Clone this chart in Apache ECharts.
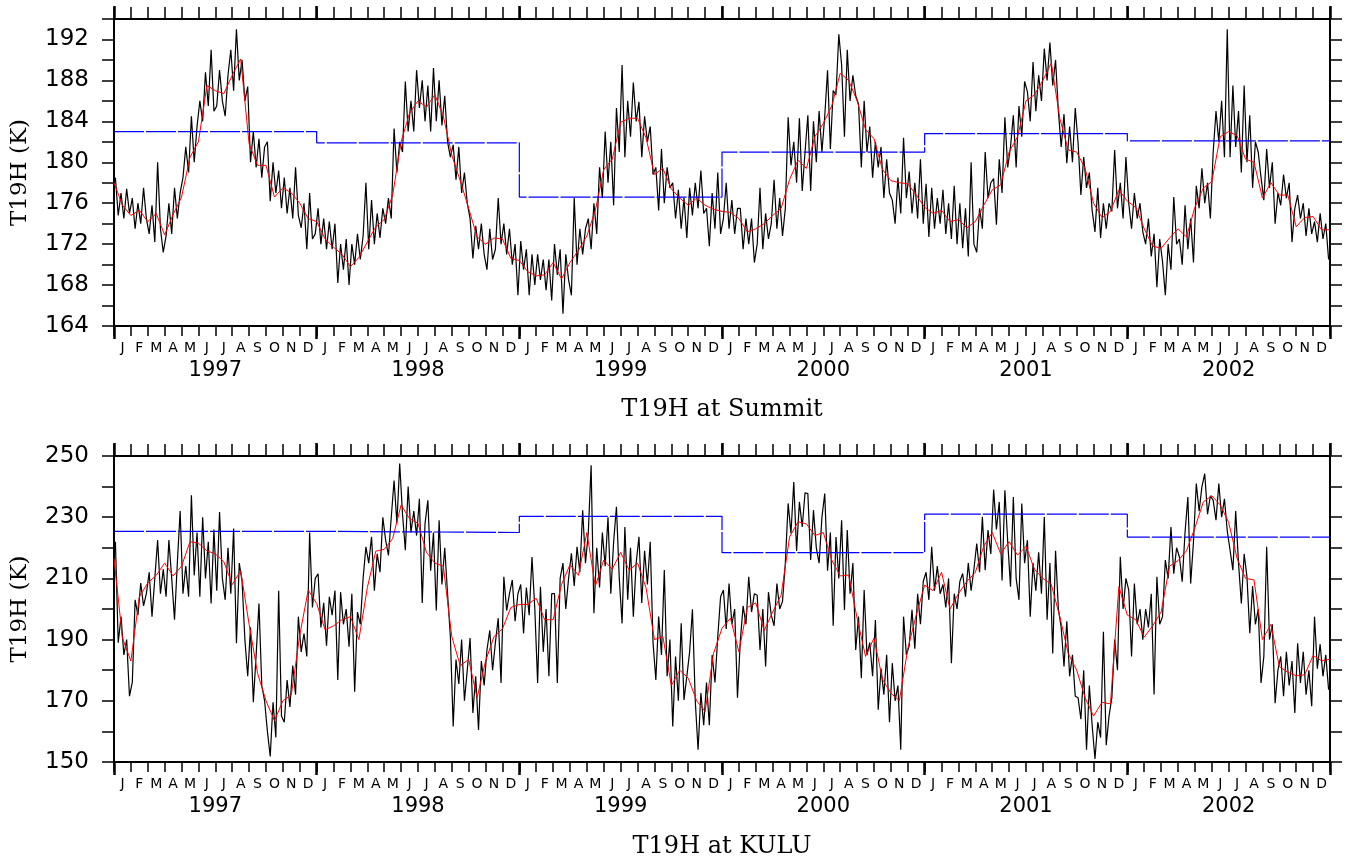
<!DOCTYPE html>
<html lang="en">
<head>
<meta charset="UTF-8">
<title>T19H Summit / KULU</title>
<style>
  html, body { margin: 0; padding: 0; background: #fff; }
  #chart { width: 1346px; height: 860px; }
</style>
</head>
<body>
<div id="chart"></div>
<script src="https://cdn.jsdelivr.net/npm/echarts@6/dist/echarts.min.js"></script>
<script>

// ---- data ----
var monthLetters = ['J','F','M','A','M','J','J','A','S','O','N','D'];
var years = ['1997','1998','1999','2000','2001','2002'];

// yearly means (blue steps)
var summitAnnual = [183.0, 181.9, 176.6, 181.0, 182.8, 182.1];
var kuluAnnual   = [225.4, 225.0, 230.3, 218.4, 231.0, 223.5];

// smoothed curve, one value every half month (red)
var summitSmooth = [
  178.0,175.8,174.8,175.3,174.2,175.0,172.9,174.9,176.6,180.5,182.0,187.5,187.0,186.7,188.5,190.1,181.8,179.7,179.7,176.6,177.5,177.0,176.0,174.5,
  174.2,172.5,171.7,171.0,169.8,170.7,172.2,173.7,174.4,176.8,182.0,184.8,186.0,185.4,186.6,184.5,180.7,178.2,175.5,172.7,172.0,172.6,172.5,170.6,
  170.4,169.3,168.9,169.0,170.2,168.6,170.2,171.4,172.8,175.3,179.3,180.3,183.9,184.3,184.3,182.4,178.8,179.4,177.4,176.5,175.8,176.5,175.8,175.4,
  175.2,175.1,174.5,173.2,173.5,174.0,174.8,175.5,178.3,180.2,179.4,182.5,183.8,185.5,188.7,188.0,186.0,183.2,182.3,179.3,178.2,178.0,177.9,176.8,
  175.6,175.0,175.3,174.2,174.4,173.6,174.2,175.8,177.3,177.8,181.0,182.5,186.0,186.6,188.0,189.7,184.3,181.2,181.0,179.4,176.0,174.6,175.2,177.3,
  176.2,175.6,173.5,171.8,171.6,172.6,173.5,172.7,175.6,177.5,178.1,182.5,183.0,182.6,180.3,180.0,176.5,178.0,176.8,176.8,173.7,174.6,174.7,173.4,
  173.4
];
var kuluSmooth = [
  216.5,190.5,183.0,204.0,208.5,211.0,215.0,210.8,214.0,222.0,221.5,219.0,218.0,215.5,208.0,212.5,195.0,179.0,170.0,163.5,170.0,172.0,191.5,206.2,
  201.8,193.2,194.5,196.5,197.5,190.0,207.0,218.9,219.5,223.0,234.0,229.5,228.0,218.5,215.0,214.0,191.0,181.5,183.5,171.0,183.0,191.0,193.5,200.5,
  201.5,201.5,203.5,196.5,196.5,208.0,214.5,211.0,225.0,207.5,216.0,213.0,218.5,212.7,215.0,207.0,190.0,191.0,175.0,180.0,177.4,170.0,166.5,185.5,
  193.7,197.0,186.0,200.5,202.0,193.0,199.0,204.5,223.5,228.5,227.8,224.0,225.0,216.0,210.8,211.1,197.0,184.5,190.5,177.0,172.5,170.0,187.0,198.0,
  207.8,206.0,212.0,200.0,205.0,209.0,212.0,220.5,225.0,218.0,222.0,217.6,220.5,213.0,210.0,208.0,197.5,185.5,180.0,171.0,165.0,169.5,169.0,207.3,
  198.0,196.5,190.8,194.5,199.0,214.0,215.8,219.0,226.5,235.0,237.0,234.0,228.3,216.5,210.0,209.5,190.0,195.0,181.2,179.3,178.2,178.5,184.8,183.1,
  183.6
];

// raw series, six readings per month (black)
var summitRaw = [
  // 1997
  178.5,174.8,177.0,174.5,177.4,175.0, 176.5,173.5,176.0,174.0,177.5,174.5, 173.0,175.8,172.2,180.0,173.5,171.2,
  172.8,176.0,173.0,177.5,174.5,177.0, 178.5,181.5,179.0,184.5,180.0,183.5, 186.0,184.0,188.8,185.5,191.0,185.0,
  185.5,189.0,186.0,184.5,188.5,191.0, 187.0,193.0,188.0,190.0,186.0,187.4, 180.0,183.0,179.5,182.3,178.5,181.5,
  182.0,176.2,180.0,177.0,179.2,175.5, 178.5,175.0,177.5,174.5,179.5,174.8, 173.6,176.0,171.5,177.0,172.5,173.0,
  // 1998
  175.5,172.0,174.5,171.5,174.2,171.5, 174.0,168.2,172.0,169.5,172.5,168.0, 172.0,170.0,173.0,170.5,172.8,178.0,
  171.5,176.3,172.0,175.0,172.6,175.5, 174.0,176.5,174.5,183.3,179.0,182.0, 181.0,187.9,183.0,186.0,183.0,189.0,
  185.3,188.0,184.0,187.5,183.0,189.2, 184.0,188.0,183.6,186.5,182.0,180.5, 181.7,178.3,181.5,177.0,179.0,176.0,
  174.5,170.6,173.8,171.5,174.0,171.0, 169.5,173.5,170.5,171.5,176.5,172.0, 174.0,171.0,173.5,170.0,172.0,167.0,
  // 1999
  172.3,169.5,171.5,167.0,171.0,168.0, 171.0,168.5,170.5,167.5,170.5,166.5, 172.0,169.0,171.5,165.2,171.0,168.5,
  167.0,176.5,170.0,173.5,171.0,173.5, 174.5,171.5,176.0,173.0,179.5,176.5, 183.0,178.0,182.0,175.8,185.3,181.0,
  189.5,180.5,186.0,182.5,187.8,184.0, 185.9,180.5,184.5,182.0,183.5,178.8, 179.5,175.3,181.3,176.0,179.5,177.5,
  178.0,174.5,177.3,173.5,176.5,172.6, 177.5,174.8,178.0,175.5,179.2,175.0, 175.5,171.8,177.0,173.5,179.0,173.0,
  // 2000
  174.5,178.0,173.5,176.3,173.0,175.5, 175.5,171.5,174.5,172.0,174.5,170.2, 172.0,177.5,171.5,175.0,172.5,174.0,
  178.3,173.5,176.5,172.8,175.5,184.4, 179.7,182.0,178.0,184.3,177.2,181.0, 184.6,177.2,184.0,180.0,185.0,181.0,
  184.5,189.0,181.3,187.0,186.6,192.5, 189.5,182.5,191.0,186.0,188.5,186.5, 185.7,179.5,186.0,181.0,183.5,178.5,
  182.0,179.5,181.5,176.5,180.3,177.0, 176.3,174.0,178.5,175.0,182.4,176.5, 179.1,175.0,178.0,174.5,180.3,174.0,
  // 2001
  177.9,172.7,177.5,173.5,176.5,174.0, 177.3,173.0,176.0,172.5,177.7,172.0, 176.0,171.6,175.5,170.8,180.0,172.0,
  171.2,175.5,173.5,181.0,176.5,178.0, 178.4,173.9,180.3,177.0,184.4,179.5, 181.5,184.6,179.5,185.5,182.5,187.9,
  186.9,184.0,189.8,185.0,188.5,186.0, 191.1,188.0,191.7,187.5,190.0,185.0, 181.5,184.7,179.9,183.5,180.0,185.3,
  181.9,176.8,180.5,177.5,179.0,175.3, 173.2,177.5,172.6,176.0,173.5,176.0, 175.2,181.2,175.5,178.0,174.5,180.5,
  // 2002
  176.0,173.5,177.0,174.5,176.0,173.2, 172.0,174.5,170.8,173.0,167.8,172.5, 170.3,167.0,172.0,169.5,176.6,172.0,
  172.5,170.0,175.8,171.5,174.5,170.2, 177.7,175.5,179.4,176.0,178.0,174.5, 181.0,185.0,182.0,186.0,180.5,193.0,
  180.5,187.5,181.5,185.0,179.0,187.5, 180.0,184.6,177.5,182.0,181.0,178.5, 176.3,181.3,177.5,180.0,174.0,177.0,
  175.8,178.8,176.5,178.0,172.2,175.5, 176.8,174.5,176.0,172.8,175.5,173.0, 174.2,172.2,175.0,172.5,174.0,170.5
];
var kuluRaw = [
  // 1997
  222.0,189.0,197.5,185.0,190.0,171.5, 176.0,203.0,198.0,208.5,201.0,205.0, 212.0,197.5,210.0,222.5,205.0,213.0,
  204.0,222.5,210.0,196.5,215.0,232.0, 205.0,214.0,204.0,237.2,211.0,225.0, 204.0,230.0,210.0,222.0,201.8,226.0,
  206.0,231.7,210.0,203.0,220.0,205.0, 226.3,188.8,215.0,209.0,190.0,178.0, 194.0,169.5,185.0,201.8,175.0,170.0,
  160.0,151.8,169.5,158.0,206.0,165.0, 163.0,176.8,168.0,181.5,172.0,197.5, 186.0,192.0,184.5,225.0,200.5,210.0,
  // 1998
  211.5,194.0,202.0,188.0,204.0,198.0, 206.0,176.8,205.5,195.0,200.0,187.7, 205.0,173.0,199.0,195.0,210.0,220.3,
  215.0,223.6,206.0,218.0,212.0,230.0, 222.5,217.5,230.0,242.0,228.0,247.5, 231.0,219.2,240.0,225.0,232.0,224.0,
  236.0,202.0,228.0,235.5,212.5,225.0, 199.5,229.0,208.0,220.0,205.0,191.0, 161.6,183.5,175.5,190.0,170.0,180.0,
  190.5,166.0,178.0,160.5,183.0,175.0, 186.6,193.0,180.0,189.0,197.0,175.8, 210.5,199.5,205.0,209.5,196.0,205.0,
  // 1999
  208.0,192.0,207.0,198.0,217.0,200.0, 175.8,207.3,186.0,200.0,178.0,205.0, 205.0,175.8,210.0,215.0,200.0,210.0,
  218.2,207.5,220.3,212.0,232.3,215.0, 225.0,247.0,198.6,220.0,207.0,225.0, 214.0,230.0,205.0,222.0,233.4,210.0,
  195.3,226.8,203.0,220.0,197.5,215.0, 223.6,202.0,219.0,208.0,222.0,189.0, 176.8,197.5,185.0,212.7,178.0,190.0,
  161.6,184.5,170.0,195.3,170.3,178.0, 186.0,199.9,170.0,154.0,172.5,162.0, 176.0,162.0,185.0,176.0,191.0,204.0,
  // 2000
  206.2,193.5,208.3,195.0,200.0,171.0, 189.5,201.0,195.0,210.5,199.0,205.0, 204.5,186.6,200.0,181.2,205.5,198.0,
  194.5,208.3,200.0,202.5,215.0,234.5, 224.7,241.5,219.0,235.0,226.8,238.0, 237.7,216.0,232.3,220.0,215.0,230.0,
  237.7,212.5,225.0,194.5,223.5,210.0, 229.0,199.7,225.8,205.0,215.0,186.6, 197.5,177.4,206.2,185.0,189.0,178.0,
  196.4,167.1,180.5,172.0,185.0,163.0, 182.3,170.0,175.0,154.0,197.5,185.0, 188.0,199.7,187.0,205.0,195.0,209.0,
  // 2001
  212.0,203.0,220.3,206.0,214.0,205.0, 208.0,200.5,210.0,182.3,205.0,200.0, 209.0,211.6,204.0,215.0,206.0,213.0,
  221.4,212.0,230.1,212.7,225.8,218.0, 239.0,226.0,235.0,209.3,238.8,222.0, 207.3,236.6,210.0,203.0,234.5,215.0,
  222.5,197.5,215.0,206.0,218.5,205.0, 230.1,196.5,215.0,185.5,219.0,200.0, 194.0,181.2,196.0,178.0,185.0,171.5,
  171.0,164.0,180.0,154.0,175.0,162.0, 151.0,163.0,158.0,192.6,155.5,165.0, 171.0,190.0,180.0,217.1,200.0,210.0,
  // 2002
  206.2,184.5,208.3,195.0,200.0,190.0, 200.0,194.0,205.0,172.1,210.5,195.0, 197.5,216.0,210.0,226.8,211.5,220.0,
  217.0,208.9,225.0,236.6,208.3,222.0, 241.0,232.0,240.0,244.2,231.0,237.0, 235.5,229.0,241.0,230.0,236.0,225.5,
  219.2,212.7,232.0,215.0,201.8,218.0, 210.5,192.1,207.5,195.0,200.0,175.8, 184.5,220.3,190.0,195.0,169.2,180.0,
  184.5,171.5,186.0,175.0,183.0,166.0, 188.8,175.8,186.0,172.0,180.0,168.2, 197.5,180.5,188.5,178.0,185.0,173.6
];

// ---- helpers ----
var perMonth = 6;
var monthCats = [];
for (var y = 0; y < years.length; y++) {
  for (var m = 0; m < 12; m++) monthCats.push(monthLetters[m]);
}

function rawPoints(arr) {
  return arr.map(function (v, i) { return [(i + 0.5) / perMonth, v]; });
}
function smoothPoints(arr) {
  return arr.map(function (v, i) { return [i * 0.5, v]; });
}
function stepPoints(arr) {
  var out = arr.map(function (v, i) { return [i * 12, v]; });
  out.push([arr.length * 12, arr[arr.length - 1]]);
  return out;
}

var labelFont = 'DejaVu Sans, sans-serif';
var serifFont = 'DejaVu Serif, serif';
var black = '#000';

function xAxesFor(grid) {
  return [
    // data axis (hidden)
    { type: 'value', gridIndex: grid, min: 0, max: 72, show: false },
    // months at the bottom
    { type: 'category', gridIndex: grid, position: 'bottom', data: monthCats, boundaryGap: true,
      axisLine: { lineStyle: { color: black, width: 2 } },
      axisTick: { show: true, interval: 0, length: 10, lineStyle: { color: black, width: 1.5 } },
      axisLabel: { interval: 0, color: black, fontSize: 14, fontFamily: labelFont, margin: 15 },
      splitLine: { show: false } },
    // years at the bottom
    { type: 'category', gridIndex: grid, position: 'bottom', data: years, boundaryGap: true,
      axisLine: { show: false },
      axisTick: { show: true, interval: 0, length: 13, lineStyle: { color: black, width: 2.5 } },
      axisLabel: { interval: 0, color: black, fontSize: 21, fontFamily: labelFont, margin: 34 },
      splitLine: { show: false } },
    // month ticks on top
    { type: 'category', gridIndex: grid, position: 'top', data: monthCats, boundaryGap: true,
      axisLine: { lineStyle: { color: black, width: 2 } },
      axisTick: { show: true, interval: 0, length: 12, lineStyle: { color: black, width: 1.5 } },
      axisLabel: { show: false }, splitLine: { show: false } },
    // year ticks on top
    { type: 'category', gridIndex: grid, position: 'top', data: years, boundaryGap: true,
      axisLine: { show: false },
      axisTick: { show: true, interval: 0, length: 13, lineStyle: { color: black, width: 2.5 } },
      axisLabel: { show: false }, splitLine: { show: false } }
  ];
}

function yAxesFor(grid, min, max, step, labelStep) {
  return [
    { type: 'value', gridIndex: grid, position: 'left', min: min, max: max, interval: step,
      name: 'T19H (K)', nameLocation: 'middle', nameGap: 82, nameRotate: 90,
      nameTextStyle: { color: black, fontSize: 23, fontFamily: serifFont },
      axisLine: { show: true, lineStyle: { color: black, width: 2 } },
      axisTick: { show: true, length: 12, lineStyle: { color: black, width: 1.5 } },
      axisLabel: { color: black, fontSize: 23, fontFamily: labelFont, margin: 25,
        formatter: function (v) { return ((v - min) % labelStep === 0) ? String(v) : ''; } },
      splitLine: { show: false } },
    { type: 'value', gridIndex: grid, position: 'right', min: min, max: max, interval: step,
      axisLine: { show: true, lineStyle: { color: black, width: 2 } },
      axisTick: { show: true, length: 12, lineStyle: { color: black, width: 1.5 } },
      axisLabel: { show: false }, splitLine: { show: false } }
  ];
}

function seriesFor(xIdx, yIdx, raw, smooth, annual) {
  return [
    { type: 'line', xAxisIndex: xIdx, yAxisIndex: yIdx, data: rawPoints(raw),
      showSymbol: false, silent: true, lineStyle: { color: black, width: 1.2 } },
    { type: 'line', xAxisIndex: xIdx, yAxisIndex: yIdx, data: smoothPoints(smooth),
      showSymbol: false, silent: true, lineStyle: { color: '#ff0000', width: 1 } },
    { type: 'line', xAxisIndex: xIdx, yAxisIndex: yIdx, data: stepPoints(annual), step: 'end',
      showSymbol: false, silent: true, lineStyle: { color: '#0000ff', width: 1.2, type: [30, 2] } }
  ];
}

var chart = echarts.init(document.getElementById('chart'));

var option = {
  backgroundColor: '#fff',
  animation: false,
  grid: [
    { left: 114, top: 19, width: 1216, height: 307, outerBoundsMode: 'none', containLabel: false },
    { left: 114, top: 456, width: 1216, height: 306, outerBoundsMode: 'none', containLabel: false }
  ],
  xAxis: xAxesFor(0).concat(xAxesFor(1)),
  yAxis: yAxesFor(0, 164, 194, 2, 4).concat(yAxesFor(1, 150, 250, 10, 20)),
  series: seriesFor(0, 0, summitRaw, summitSmooth, summitAnnual)
    .concat(seriesFor(5, 2, kuluRaw, kuluSmooth, kuluAnnual)),
  graphic: [
    { type: 'text', x: 722, y: 410, style: { text: 'T19H at Summit', fill: black,
      font: '24px ' + serifFont, textAlign: 'center', textVerticalAlign: 'middle' } },
    { type: 'text', x: 722, y: 847, style: { text: 'T19H at KULU', fill: black,
      font: '24px ' + serifFont, textAlign: 'center', textVerticalAlign: 'middle' } }
  ]
};

chart.setOption(option);

</script>
</body>
</html>
